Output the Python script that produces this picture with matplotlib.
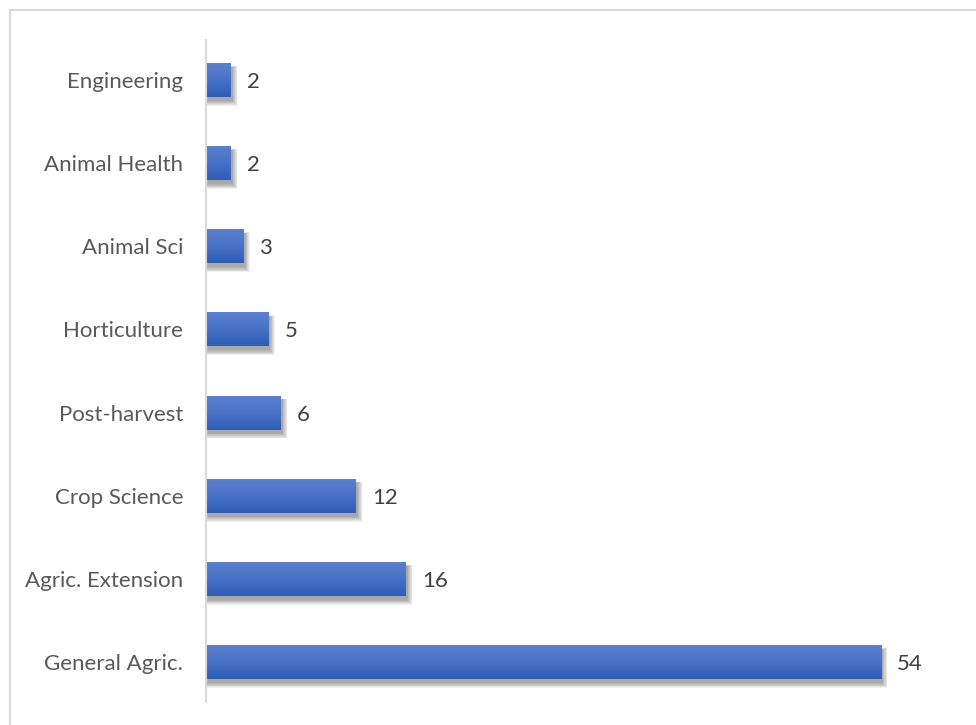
import numpy as np
import matplotlib.pyplot as plt
from matplotlib.patches import Rectangle
from matplotlib.colors import LinearSegmentedColormap

categories = ["General Agric.", "Agric. Extension", "Crop Science", "Post-harvest",
              "Horticulture", "Animal Sci", "Animal Health", "Engineering"]
counts = [54, 16, 12, 6, 5, 3, 2, 2]

plt.rcParams['font.family'] = ['Lato', 'DejaVu Sans']

fig = plt.figure(figsize=(9.76, 7.25), dpi=100)
ax = fig.add_axes([206/976, 1-702/725, 756/976, 662/725])

# outer chart frame (right/bottom edges fall outside the canvas)
fig.patches.append(Rectangle((10/976, -0.05), 1.1, 1-10/725+0.05, transform=fig.transFigure,
                             fill=False, edgecolor="#d9d9d9", linewidth=1.5))

grad = LinearSegmentedColormap.from_list("bar", ["#2d5db8", "#4a72c8", "#5c80cc"])
ypos = np.arange(len(categories))
h = 0.41
px_x = 1 / 12.5   # data units per pixel, x
px_y = 1 / 83.0   # data units per pixel, y

bars = ax.barh(ypos, counts, height=h, color="none", edgecolor="none", zorder=2)
for b in bars:
    x0, y0, w, hh = b.get_x(), b.get_y(), b.get_width(), b.get_height()
    # soft drop shadow built from stacked translucent layers
    for k in range(7):
        grow = k * 0.8
        ax.add_patch(Rectangle((x0 + (1.5 - grow) * px_x, y0 - (4 + grow) * px_y),
                               w + 2 * grow * px_x, hh + 2 * grow * px_y * 0.6,
                               facecolor="black", edgecolor="none", alpha=0.055, zorder=1))
    im = ax.imshow(np.linspace(0, 1, 64).reshape(-1, 1), cmap=grad, aspect="auto",
                   extent=(x0, x0 + w, y0, y0 + hh), origin="lower", zorder=2,
                   interpolation="bicubic")
    im.set_clip_path(b)

for y, v in zip(ypos, counts):
    ax.text(v + 16 * px_x, y - 2 * px_y, str(v), va="center", ha="left",
            fontsize=16, color="#404040")

ax.set_xlim(0, 756 * px_x)
ax.set_ylim(-0.48, len(categories) - 1 + 0.48)
ax.set_yticks(ypos)
ax.set_yticklabels(categories, fontsize=16, color="#595959")
ax.tick_params(axis="y", length=0, pad=16.5)
ax.set_xticks([])
for s in ["top", "right", "bottom"]:
    ax.spines[s].set_visible(False)
ax.spines["left"].set_color("#d9d9d9")
ax.spines["left"].set_linewidth(1.5)
ax.spines["left"].set_zorder(3)
ax.set_facecolor("none")

fig.savefig("out.png", dpi=100)
